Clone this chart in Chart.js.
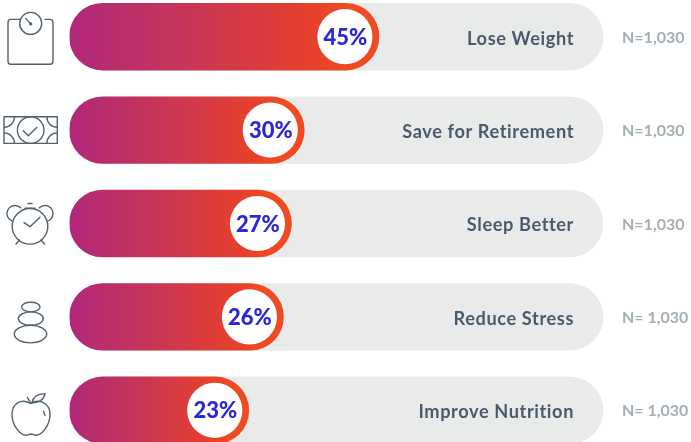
<!DOCTYPE html>
<html>
<head>
<meta charset="utf-8">
<title>Health goals</title>
<script src="https://cdn.jsdelivr.net/npm/chart.js@4/dist/chart.umd.min.js"></script>
<style>
  html, body { margin: 0; padding: 0; background: #fff; }
  #wrap { position: relative; width: 691px; height: 442px; overflow: hidden; }
  #chart { position: absolute; left: 0; top: -10px; }
</style>
</head>
<body>
<div id="wrap"><canvas id="chart" width="691" height="467"></canvas></div>
<script>
const categories = ['Lose Weight', 'Save for Retirement', 'Sleep Better', 'Reduce Stress', 'Improve Nutrition'];
const percents = [45, 30, 27, 26, 23];
// the artwork's fills are not proportional to the printed percents,
// so lengths are read off separately, as a share of the full track
const fillLevels = [58, 44, 41.6, 40.1, 33.6];
const trackLevels = [100, 100, 100, 100, 100];
const sampleSizes = ['N=1,030', 'N=1,030', 'N=1,030', 'N= 1,030', 'N= 1,030'];
const iconNames = ['scale', 'money', 'clock', 'stones', 'apple'];

const FONT = 'Lato, sans-serif';
const ICON = '#52616f';
const ORANGE = '#f04a22';

function fillGradient(ctx) {
  const chart = ctx.chart;
  if (!chart.chartArea) return ORANGE;
  const xs = chart.scales.x;
  const g = chart.ctx.createLinearGradient(xs.left, 0, xs.getPixelForValue(fillLevels[ctx.dataIndex]), 0);
  g.addColorStop(0, '#b1277b');
  g.addColorStop(0.35, '#c5355a');
  g.addColorStop(0.6, '#d83a3f');
  g.addColorStop(0.8, '#e8412a');
  g.addColorStop(0.9, ORANGE);
  g.addColorStop(1, ORANGE);
  return g;
}

// ===== ICONS =====
const icons = {
  scale(c, y) {
    c.beginPath();
    c.moveTo(19.5, y - 17.3); c.lineTo(11, y - 17.3);
    c.arcTo(8, y - 17.3, 8, y - 14.3, 3); c.lineTo(8, y + 24.5);
    c.arcTo(8, y + 27.5, 11, y + 27.5, 3); c.lineTo(50, y + 27.5);
    c.arcTo(53, y + 27.5, 53, y + 24.5, 3); c.lineTo(53, y - 14.3);
    c.arcTo(53, y - 17.3, 50, y - 17.3, 3); c.lineTo(45, y - 17.3);
    c.stroke();
    c.beginPath(); c.arc(30.7, y - 13.3, 11, 0, Math.PI * 2); c.stroke();
    c.beginPath(); c.moveTo(25.7, y - 18.3); c.lineTo(30.7, y - 12.8); c.stroke();
    c.beginPath(); c.arc(30.7, y - 12.8, 1.6, 0, Math.PI * 2); c.fillStyle = ICON; c.fill();
  },
  money(c, y) {
    c.beginPath(); c.rect(4, y - 13.3, 53.3, 26.6); c.stroke();
    c.beginPath(); c.arc(30.7, y, 13.3, 0, Math.PI * 2); c.stroke();
    c.beginPath(); c.moveTo(23.3, y + 0.7); c.lineTo(28.3, y + 5.7); c.lineTo(36.7, y - 2.7); c.stroke();
    [[4, -13.3, 0, Math.PI / 2], [57.3, -13.3, Math.PI / 2, Math.PI], [4, 13.3, -Math.PI / 2, 0], [57.3, 13.3, Math.PI, Math.PI * 1.5]].forEach(a => {
      c.beginPath(); c.arc(a[0], y + a[1], 10.5, a[2], a[3]); c.stroke();
    });
  },
  clock(c, y) {
    c.beginPath(); c.arc(30, y + 2.8, 17.8, 0, Math.PI * 2); c.stroke();
    c.beginPath(); c.moveTo(24, y - 0.8); c.lineTo(30, y + 3.2); c.lineTo(40, y - 6.2); c.stroke();
    c.beginPath(); c.arc(15, y - 10, 8, Math.PI * 0.62, Math.PI * 1.75); c.stroke();
    c.beginPath(); c.arc(45, y - 10, 8, -Math.PI * 0.75, Math.PI * 0.38); c.stroke();
    c.beginPath(); c.moveTo(25, y - 15.2); c.lineTo(35, y - 15.2); c.moveTo(28, y - 20); c.lineTo(32, y - 20); c.stroke();
    c.beginPath(); c.moveTo(16, y + 20.5); c.lineTo(19.5, y + 16.5); c.moveTo(44.5, y + 20.5); c.lineTo(41, y + 16.5); c.stroke();
  },
  stones(c, y) {
    c.beginPath(); c.ellipse(30.8, y - 9.8, 9.2, 4.8, 0, 0, Math.PI * 2); c.stroke();
    c.beginPath(); c.ellipse(30.8, y + 1.7, 12.5, 6.7, 0, 0, Math.PI * 2); c.stroke();
    c.beginPath(); c.ellipse(30.5, y + 17.2, 16.2, 8.8, 0, 0, Math.PI * 2); c.stroke();
  },
  apple(c, y) {
    c.beginPath();
    c.moveTo(30.5, y - 7);
    c.bezierCurveTo(21, y - 12, 12, y - 7, 12, y + 4);
    c.bezierCurveTo(12, y + 15, 20, y + 25, 26, y + 25);
    c.bezierCurveTo(28, y + 25, 29, y + 23.7, 31, y + 23.7);
    c.bezierCurveTo(33, y + 23.7, 34, y + 25, 36, y + 25);
    c.bezierCurveTo(42, y + 25, 50, y + 15, 50, y + 4);
    c.bezierCurveTo(50, y - 7, 40, y - 12, 30.5, y - 7);
    c.stroke();
    c.beginPath(); c.moveTo(27.3, y - 13); c.lineTo(31, y - 7); c.stroke();
    c.beginPath();
    c.moveTo(32, y - 7.5);
    c.bezierCurveTo(33, y - 14, 38, y - 16.5, 45, y - 16.7);
    c.bezierCurveTo(44, y - 11, 39, y - 7, 32, y - 7.5);
    c.stroke();
    c.beginPath(); c.moveTo(43.5, y + 1); c.lineTo(45, y + 5); c.stroke();
  }
};

const overlayPlugin = {
  id: 'overlay',
  afterDatasetsDraw(chart) {
    const c = chart.ctx, xs = chart.scales.x, ys = chart.scales.y;
    categories.forEach((name, i) => {
      const y = ys.getPixelForValue(i);
      const cx = xs.getPixelForValue(fillLevels[i]) - 34;

      // white knob on the end of the fill
      c.save();
      c.beginPath(); c.arc(cx, y, 27.6, 0, Math.PI * 2);
      c.fillStyle = '#fff'; c.fill();
      c.fillStyle = '#2b27d9';
      c.font = '900 22px ' + FONT;
      c.textAlign = 'center'; c.textBaseline = 'middle';
      c.fillText(percents[i] + '%', cx + 0.5, y + 1);

      // category name inside the track
      c.fillStyle = '#4a5a6b';
      c.font = '700 18.2px ' + FONT;
      c.letterSpacing = '0.6px';
      c.textAlign = 'right';
      c.fillText(name, xs.right - 29, y + 2);
      c.letterSpacing = '0px';

      // sample size to the right of the track
      c.fillStyle = '#a3afb5';
      c.font = '700 16px ' + FONT;
      c.textAlign = 'left';
      c.fillText(sampleSizes[i], 622, y + 1);

      // icon
      c.strokeStyle = ICON; c.lineWidth = 1.4; c.lineCap = 'round'; c.lineJoin = 'round';
      icons[iconNames[i]](c, y);
      c.restore();
    });
  }
};

new Chart(document.getElementById('chart'), {
  type: 'bar',
  data: {
    labels: categories,
    datasets: [
      { label: 'Share', data: fillLevels, backgroundColor: fillGradient, borderRadius: 34, borderSkipped: false, barThickness: 66.7, grouped: false },
      { label: 'Track', data: trackLevels, backgroundColor: '#e9ebeb', borderRadius: 34, borderSkipped: false, barThickness: 66.7, grouped: false }
    ]
  },
  options: {
    indexAxis: 'y',
    responsive: false,
    animation: false,
    layout: { padding: { left: 69.5, right: 88, top: 0, bottom: 0 } },
    plugins: { legend: { display: false }, tooltip: { enabled: false } },
    scales: {
      x: { display: false, min: 0, max: 100 },
      y: { display: false }
    }
  },
  plugins: [overlayPlugin]
});
</script>
</body>
</html>
